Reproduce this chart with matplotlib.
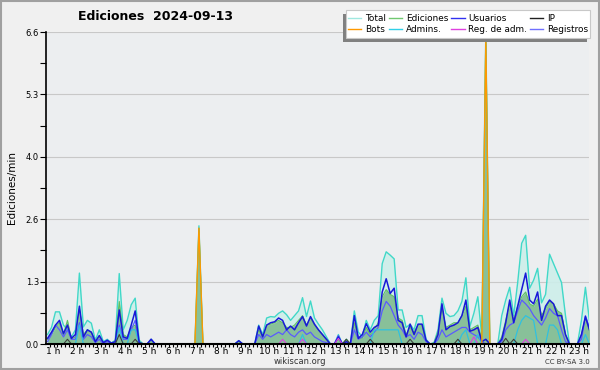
import numpy as np
import matplotlib.pyplot as plt
from matplotlib.lines import Line2D
from matplotlib.patches import Rectangle

# bins de 10 minutos, el primero a las 0:45
t0 = 0.75
n_bins = 137

total = [0.2, 0.35, 0.68, 0.68, 0.4, 0.3, 0.15, 0.3, 1.5, 0.36, 0.5, 0.44, 0.08, 0.3, 0.05, 0.1, 0.02, 0.08, 1.49, 0.3, 0.5, 0.83, 0.97, 0.08, 0,
         0, 0.1, 0, 0, 0, 0, 0, 0, 0, 0, 0, 0, 0, 2.5, 0, 0, 0, 0, 0, 0, 0, 0, 0, 0.07, 0, 0, 0, 0,
         0.4, 0.2, 0.55, 0.58, 0.57, 0.65, 0.7, 0.62, 0.5, 0.6, 0.7, 0.98, 0.58, 0.91, 0.55, 0.42, 0.3, 0.15, 0,
         0, 0.2, 0, 0.1, 0, 0.7, 0.25, 0.16, 0.5, 0.3, 0.5, 0.6, 1.7, 1.95, 1.88, 1.8, 0.72, 0.72, 0.35, 0.42, 0.3, 0.6, 0.6, 0.1, 0, 0.03, 0.3, 0.97, 0.65,
         0.58, 0.6, 0.7, 0.9, 1.4, 0.37, 0.65, 1.0, 0.15, 6.6, 0, 0, 0, 0.6, 0.93, 1.2, 0.6, 1.3, 2.13, 2.3, 1.18, 1.35, 1.6, 0.87, 1.05, 1.9, 1.7, 1.5, 1.3, 0.6, 0, 0, 0, 0.5, 1.2, 0.5]

ediciones = [0.1, 0.2, 0.35, 0.45, 0.2, 0.5, 0.1, 0.15, 0.75, 0.2, 0.3, 0.25, 0.05, 0.15, 0.03, 0.05, 0.02, 0.05, 0.9, 0.2, 0.15, 0.35, 0.4, 0.05, 0,
             0, 0.08, 0, 0, 0, 0, 0, 0, 0, 0, 0, 0, 0, 2.45, 0, 0, 0, 0, 0, 0, 0, 0, 0, 0.05, 0, 0, 0, 0,
             0.3, 0.15, 0.4, 0.42, 0.45, 0.5, 0.45, 0.35, 0.35, 0.4, 0.5, 0.6, 0.4, 0.55, 0.4, 0.3, 0.2, 0.1, 0,
             0, 0.1, 0, 0.1, 0, 0.45, 0.15, 0.12, 0.35, 0.2, 0.3, 0.45, 1.0, 1.15, 1.05, 1.0, 0.55, 0.5, 0.2, 0.35, 0.25, 0.4, 0.4, 0.05, 0, 0.02, 0.25, 0.75, 0.35,
             0.4, 0.45, 0.45, 0.6, 0.8, 0.3, 0.35, 0.4, 0.1, 6.55, 0, 0, 0, 0.15, 0.5, 0.85, 0.5, 0.8, 1.0, 1.1, 0.85, 0.8, 0.95, 0.6, 0.75, 0.9, 0.85, 0.7, 0.65, 0.2, 0, 0, 0, 0.2, 0.55, 0.3]

usuarios = [0.12, 0.25, 0.4, 0.5, 0.22, 0.4, 0.12, 0.2, 0.8, 0.15, 0.3, 0.25, 0.05, 0.18, 0.03, 0.08, 0.02, 0.05, 0.72, 0.15, 0.12, 0.4, 0.7, 0.03, 0,
            0, 0.1, 0, 0, 0, 0, 0, 0, 0, 0, 0, 0, 0, 0, 0, 0, 0, 0, 0, 0, 0, 0, 0, 0.07, 0, 0, 0, 0,
            0.38, 0.15, 0.4, 0.45, 0.47, 0.55, 0.5, 0.3, 0.38, 0.3, 0.45, 0.58, 0.38, 0.58, 0.42, 0.3, 0.2, 0.1, 0,
            0, 0.15, 0, 0.05, 0, 0.6, 0.12, 0.2, 0.43, 0.25, 0.35, 0.4, 1.1, 1.38, 1.07, 1.18, 0.5, 0.45, 0.15, 0.42, 0.2, 0.42, 0.42, 0.08, 0, 0, 0.2, 0.85, 0.3,
            0.37, 0.4, 0.45, 0.6, 0.93, 0.27, 0.3, 0.35, 0.05, 0.1, 0, 0, 0, 0.1, 0.45, 0.93, 0.45, 0.8, 1.15, 1.5, 0.93, 0.85, 1.1, 0.5, 0.8, 0.93, 0.85, 0.6, 0.6, 0.2, 0, 0, 0, 0.2, 0.58, 0.3]

registros = [0.05, 0.2, 0.4, 0.3, 0.15, 0.3, 0.1, 0.1, 0.45, 0.1, 0.2, 0.15, 0.03, 0.1, 0, 0.05, 0, 0.03, 0.4, 0.1, 0.1, 0.3, 0.5, 0, 0,
             0, 0.1, 0, 0, 0, 0, 0, 0, 0, 0, 0, 0, 0, 0, 0, 0, 0, 0, 0, 0, 0, 0, 0, 0, 0, 0, 0, 0,
             0.2, 0.1, 0.2, 0.15, 0.2, 0.25, 0.2, 0.3, 0.2, 0.15, 0.25, 0.3, 0.2, 0.25, 0.15, 0.1, 0.05, 0.03, 0,
             0, 0.18, 0, 0, 0, 0.3, 0.1, 0.15, 0.25, 0.15, 0.25, 0.35, 0.7, 0.9, 0.8, 0.6, 0.4, 0.3, 0.15, 0.2, 0.1, 0.25, 0.2, 0.05, 0, 0, 0.1, 0.3, 0.15,
             0.2, 0.25, 0.3, 0.35, 0.35, 0.25, 0.2, 0.15, 0.05, 0, 0, 0, 0, 0.05, 0.3, 0.4, 0.45, 0.7, 0.93, 0.85, 0.75, 0.6, 0.5, 0.4, 0.55, 0.75, 0.65, 0.6, 0.3, 0.05, 0, 0, 0, 0.1, 0.6, 0.35]

# series casi siempre a cero: (bin, valor)
bots_idx = [38, 110]
bots_val = [2.45, 6.45]
ip_idx = [5, 18, 22, 75, 81, 91, 103, 115, 117]
ip_val = [0.1, 0.2, 0.1, 0.1, 0.1, 0.1, 0.1, 0.12, 0.1]
admins_idx = [8, 18, 21, 22, 64, 82, 83, 84, 85, 86, 87, 88, 104, 105, 108, 118, 119, 120, 121, 122, 126, 127, 128, 135]
admins_val = [0.4, 0.35, 0.3, 0.3, 0.2, 0.3, 0.3, 0.3, 0.3, 0.3, 0.3, 0.3, 0.2, 0.3, 0.2, 0.3, 0.5, 0.6, 0.55, 0.5, 0.4, 0.4, 0.3, 0.2]
regadm_idx = [59, 64, 73, 107, 120]
regadm_val = [0.1, 0.1, 0.12, 0.15, 0.1]

horas = list(range(1, 24))
etiquetas = [f"{h} h" for h in horas]
y_max = 6.6


def serie(idx, val):
    s = np.zeros(n_bins)
    s[idx] = val
    return s


t = t0 + np.arange(n_bins) / 6
bots = serie(bots_idx, bots_val)
ip = serie(ip_idx, ip_val)
admins = serie(admins_idx, admins_val)
regadm = serie(regadm_idx, regadm_val)

fig = plt.figure(figsize=(6, 3.7), dpi=100, facecolor='#f0f0f0')
ax = fig.add_axes([46/600, 26/370, 543/600, 312/370])
ax.set_facecolor('#eceef0')

ax.fill_between(t, total, color='#cdeeea', alpha=0.9, lw=0)
ax.fill_between(t, ediciones, color='#80bb90', alpha=0.9, lw=0)

ax.plot(t, total, color='#40d8c8', lw=1.0)
ax.plot(t, ediciones, color='#60c060', lw=0.8)
ax.plot(t, registros, color='#5a5aff', lw=0.9)
ax.plot(t, admins, color='#30c0e0', lw=0.9)
ax.plot(t, usuarios, color='#1818d8', lw=1.1)
ax.plot(t, ip, color='#404040', lw=0.8)
ax.plot(t, regadm, color='#e040e0', lw=0.8)
ax.plot(t, bots, color='#ff9900', lw=1.0)

yt = [y_max * k / 5 for k in range(6)]
ax.set_yticks(yt)
ax.set_yticklabels([f"{v:.1f}" for v in yt], fontsize=6)
ax.set_yticks([y_max * (k + 0.5) / 5 for k in range(5)], minor=True)
ax.grid(axis='y', color='#c8c8c8', lw=0.8)
ax.set_axisbelow(True)

ax.set_xticks(horas)
ax.set_xticklabels(etiquetas, fontsize=6.5)
ax.set_xticks(np.arange(1, 141) / 6, minor=True)
ax.tick_params(axis='x', which='both', length=2.5, width=0.8, pad=0)
ax.tick_params(axis='y', which='both', length=4, width=0.8, pad=1)

# los limites despues de los ticks, que si no los ensanchan
ax.set_xlim(0.686, 23.40)
ax.set_ylim(0, y_max)

for lado in ['top', 'right']:
    ax.spines[lado].set_visible(False)
ax.spines['bottom'].set_linewidth(1.5)
ax.spines['left'].set_linewidth(1.2)

ax.set_ylabel("Ediciones/min", fontsize=7.5, labelpad=6)
fig.text(155/600, 1 - 17/370, "Ediciones  2024-09-13", ha='center', va='center',
         fontsize=9, fontweight='bold')
fig.text(0.5, 1 - 362/370, "wikiscan.org", ha='center', va='center', fontsize=6, color='#333333')
fig.text(590/600, 1 - 362/370, "CC BY-SA 3.0", ha='right', va='center', fontsize=5, color='#333333')

# caja de la leyenda con su sombra abajo a la izquierda
fig.patches.append(Rectangle((343/600, 1 - 42/370), 244/600, 28/370, transform=fig.transFigure,
                             facecolor='#808080', edgecolor='none', zorder=1))
fig.patches.append(Rectangle((346/600, 1 - 38/370), 244/600, 28/370, transform=fig.transFigure,
                             facecolor='white', edgecolor='#c8c8c8', lw=0.8, zorder=2))

nombres = ['Total', 'Bots', 'Ediciones', 'Admins.', 'Usuarios', 'Reg. de adm.', 'IP', 'Registros']
colores = ['#a0e8e0', '#ff9900', '#70c870', '#30d0e8', '#3030f0', '#e040e0', '#202020', '#7070ff']
handles = [Line2D([], [], color=c, lw=1) for c in colores]
leg = fig.legend(handles, nombres, ncol=4, loc='center', bbox_to_anchor=(468/600, 1 - 24/370),
                 fontsize=6.4, frameon=False, handlelength=1.5, handletextpad=0.4,
                 columnspacing=0.35, labelspacing=0.15, borderpad=0.1)
leg.set_zorder(3)

borde = Rectangle((0.002, 0.003), 0.996, 0.994, transform=fig.transFigure, fill=False,
                  edgecolor='#a0a0a0', lw=1.5)
fig.patches.append(borde)

fig.savefig('out.png', dpi=100, facecolor=fig.get_facecolor())
